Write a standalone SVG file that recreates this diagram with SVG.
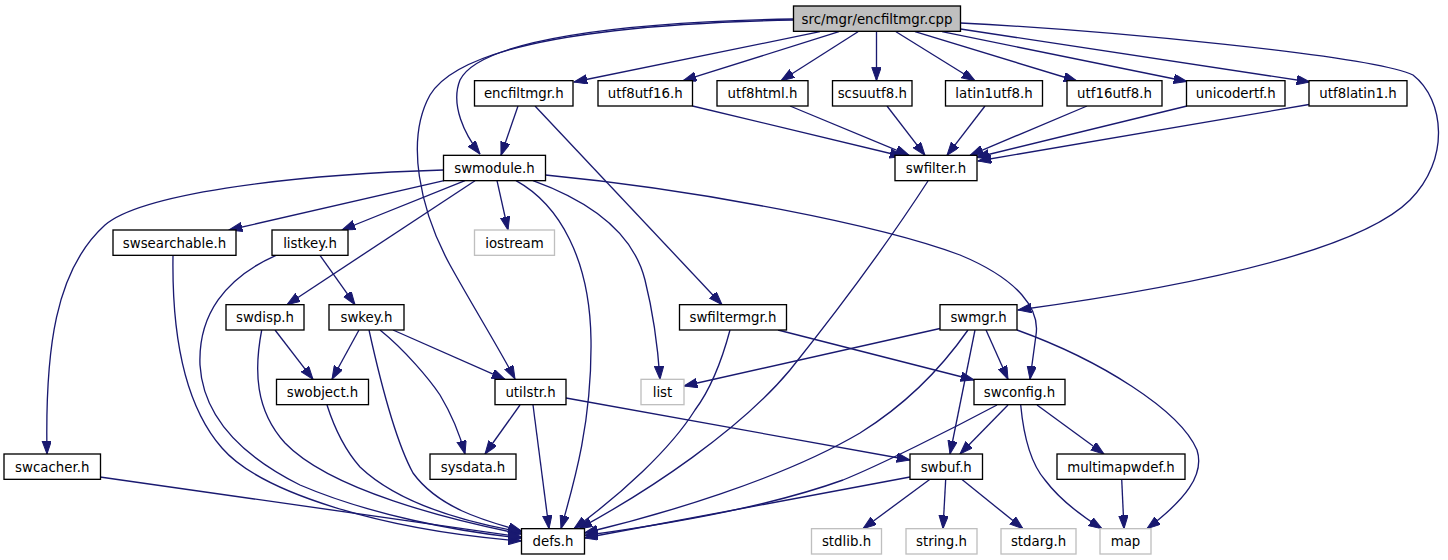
<svg xmlns="http://www.w3.org/2000/svg" width="1448" height="560" viewBox="0 0 1448 560">
<style>
.n rect{fill:#ffffff;stroke:#000000;stroke-width:1.33}
.g rect{fill:#ffffff;stroke:#bfbfbf;stroke-width:1.33}
.root rect{fill:#bfbfbf;stroke:#000000;stroke-width:1.33}
text{font-family:"DejaVu Sans","Liberation Sans",sans-serif;font-size:13.33px;text-anchor:middle;fill:#000000}
#edges path{fill:none;stroke:#191970;stroke-width:1.33;marker-end:url(#arr)}
</style>
<defs>
<marker id="arr" markerUnits="userSpaceOnUse" markerWidth="14" markerHeight="10" refX="13.3" refY="4.7" orient="auto">
<path d="M0,0 L13.3,4.7 L0,9.4 z" fill="#191970" stroke="#191970" stroke-width="1"/>
</marker>
</defs>
<rect x="0" y="0" width="1448" height="560" fill="#ffffff"/>
<g id="edges">
<path d="M820,31.7 L574,82"/>
<path d="M839,31.7 L683,80.7"/>
<path d="M858,31.7 L781,80.7"/>
<path d="M876.5,31.7 L876.5,80.7"/>
<path d="M896,31.7 L975,80.7"/>
<path d="M915,31.7 L1077,81"/>
<path d="M942,31.7 L1187,81.5"/>
<path d="M960.5,29 L1310,82"/>
<path d="M960.5,23 C1100,30 1370,55 1413,75 C1445,100 1450,160 1410,200 C1360,250 1200,285 1018,310"/>
<path d="M793.5,19 C620,22 480,40 460,80 C450,105 465,135 480,154"/>
<path d="M793.5,20 C600,24 460,45 430,95 C405,140 420,210 450,265 C475,310 500,350 515,379"/>
<path d="M518,106 L501,155.3"/>
<path d="M535,106 L722,304.7"/>
<path d="M692.5,106 L903,156.5"/>
<path d="M790,106 L909,155.3"/>
<path d="M887,106 L925,155.3"/>
<path d="M985,106 L947,155.3"/>
<path d="M1087,106 L970,155.3"/>
<path d="M1187,106 L976,157.5"/>
<path d="M1309,104.5 L978,161"/>
<path d="M928,181 C880,255 830,320 790,370 C740,430 650,490 579,528.7"/>
<path d="M443.5,170 C280,175 140,195 105,225 C55,270 45,350 47,454"/>
<path d="M444,180.7 L229,230"/>
<path d="M465,180.7 L342,230"/>
<path d="M475,180.7 L287,304.7"/>
<path d="M497,180.7 L508,230"/>
<path d="M516,180.7 C560,205 590,260 591,340 C592,420 575,480 561,528.7"/>
<path d="M533,180.7 C600,205 635,240 645,280 C655,320 658,350 660,379.3"/>
<path d="M545.5,175 C700,190 880,225 960,255 C1020,280 1040,310 1036,335 C1034,350 1032,365 1030,379.3"/>
<path d="M173,255.3 C172,320 180,400 222,448 C260,492 380,530 521.5,541"/>
<path d="M276,255.3 C225,278 198,315 200,365 C203,415 240,455 300,485 C370,515 460,532 521.5,538"/>
<path d="M320,255.3 L355,304.7"/>
<path d="M275,330 L313,379.3"/>
<path d="M261.7,330 C254,370 255,410 285,443 C330,490 450,520 521.5,534"/>
<path d="M359,330 L332,379.3"/>
<path d="M369,330 C380,380 395,440 413,473 C440,510 490,522 521.5,531"/>
<path d="M380,330 C405,350 430,380 440,395 C452,415 460,435 465,454"/>
<path d="M393,330 L505,379.3"/>
<path d="M730,330 C722,360 710,390 695,410 C670,450 620,495 574,528.7"/>
<path d="M778,330 L974,380"/>
<path d="M940,328.5 L684,386"/>
<path d="M968,330 C940,370 905,405 860,433 C780,480 660,515 584.5,533"/>
<path d="M975,330 L950,454"/>
<path d="M986,330 L1008,379.3"/>
<path d="M1017,330 C1100,360 1180,410 1197,450 C1205,475 1185,500 1147,528.7"/>
<path d="M997,405 C950,430 880,465 843,480 C760,510 640,528 584.5,535.5"/>
<path d="M1008,405 L960,454"/>
<path d="M1037,405 L1104,454"/>
<path d="M1020.7,405 C1024,440 1032,465 1045,480 C1060,500 1080,515 1102,528.7"/>
<path d="M566,398 L910,460"/>
<path d="M520,405 L485,454"/>
<path d="M533,405 L549,528.7"/>
<path d="M327,405 C335,430 345,450 360,467 C400,505 470,523 521.5,532"/>
<path d="M100,477 L521.5,537"/>
<path d="M910,477 L584.5,538"/>
<path d="M930,479.3 L863,528.7"/>
<path d="M945.7,479.3 L943,528.7"/>
<path d="M961.7,479.3 L1023,528.7"/>
<path d="M1121.7,479.3 L1124,528.7"/>
</g>
<g id="node_cpp" class="root"><rect x="793.5" y="6" width="167" height="25.33"/><text x="877" y="23.5">src/mgr/encfiltmgr.cpp</text></g>
<g id="node_encfiltmgr_h" class="n"><rect x="474.5" y="80.67" width="98.5" height="25.33"/><text x="523.75" y="98.2">encfiltmgr.h</text></g>
<g id="node_utf8utf16_h" class="n"><rect x="598" y="80.67" width="94.5" height="25.33"/><text x="645.25" y="98.2">utf8utf16.h</text></g>
<g id="node_utf8html_h" class="n"><rect x="717" y="80.67" width="91" height="25.33"/><text x="762.5" y="98.2">utf8html.h</text></g>
<g id="node_scsuutf8_h" class="n"><rect x="832.5" y="80.67" width="79.5" height="25.33"/><text x="872.25" y="98.2">scsuutf8.h</text></g>
<g id="node_latin1utf8_h" class="n"><rect x="945.5" y="80.67" width="97" height="25.33"/><text x="994" y="98.2">latin1utf8.h</text></g>
<g id="node_utf16utf8_h" class="n"><rect x="1067" y="80.67" width="95" height="25.33"/><text x="1114.5" y="98.2">utf16utf8.h</text></g>
<g id="node_unicodertf_h" class="n"><rect x="1186.5" y="80.67" width="98.5" height="25.33"/><text x="1235.75" y="98.2">unicodertf.h</text></g>
<g id="node_utf8latin1_h" class="n"><rect x="1309" y="80.67" width="98" height="25.33"/><text x="1358" y="98.2">utf8latin1.h</text></g>
<g id="node_swmodule_h" class="n"><rect x="443.5" y="155.33" width="102" height="25.33"/><text x="494.5" y="172.8">swmodule.h</text></g>
<g id="node_swfilter_h" class="n"><rect x="895" y="155.33" width="82" height="25.33"/><text x="936" y="172.8">swfilter.h</text></g>
<g id="node_swsearchable_h" class="n"><rect x="113" y="230" width="123" height="25.33"/><text x="174.5" y="247.5">swsearchable.h</text></g>
<g id="node_listkey_h" class="n"><rect x="272" y="230" width="76" height="25.33"/><text x="310" y="247.5">listkey.h</text></g>
<g id="node_iostream" class="g"><rect x="474.5" y="230" width="80" height="25.33"/><text x="514.5" y="247.5">iostream</text></g>
<g id="node_swdisp_h" class="n"><rect x="226" y="304.67" width="78" height="25.33"/><text x="265" y="322.2">swdisp.h</text></g>
<g id="node_swkey_h" class="n"><rect x="329" y="304.67" width="75" height="25.33"/><text x="366.5" y="322.2">swkey.h</text></g>
<g id="node_swfiltermgr_h" class="n"><rect x="679.5" y="304.67" width="107" height="25.33"/><text x="733" y="322.2">swfiltermgr.h</text></g>
<g id="node_swmgr_h" class="n"><rect x="940" y="304.67" width="77" height="25.33"/><text x="978.5" y="322.2">swmgr.h</text></g>
<g id="node_swobject_h" class="n"><rect x="276.5" y="379.33" width="92" height="25.33"/><text x="322.5" y="396.8">swobject.h</text></g>
<g id="node_utilstr_h" class="n"><rect x="495" y="379.33" width="71" height="25.33"/><text x="530.5" y="396.8">utilstr.h</text></g>
<g id="node_list" class="g"><rect x="641" y="379.33" width="43" height="25.33"/><text x="662.5" y="396.8">list</text></g>
<g id="node_swconfig_h" class="n"><rect x="974" y="379.33" width="91" height="25.33"/><text x="1019.5" y="396.8">swconfig.h</text></g>
<g id="node_swcacher_h" class="n"><rect x="4" y="454" width="96.5" height="25.33"/><text x="52.25" y="471.5">swcacher.h</text></g>
<g id="node_sysdata_h" class="n"><rect x="430" y="454" width="86" height="25.33"/><text x="473" y="471.5">sysdata.h</text></g>
<g id="node_swbuf_h" class="n"><rect x="910" y="454" width="72.5" height="25.33"/><text x="946.25" y="471.5">swbuf.h</text></g>
<g id="node_multimapwdef_h" class="n"><rect x="1057" y="454" width="128" height="25.33"/><text x="1121" y="471.5">multimapwdef.h</text></g>
<g id="node_defs_h" class="n"><rect x="521.5" y="528.67" width="63" height="25.33"/><text x="553" y="546.2">defs.h</text></g>
<g id="node_stdlib_h" class="g"><rect x="811.5" y="528.67" width="70" height="25.33"/><text x="846.5" y="546.2">stdlib.h</text></g>
<g id="node_string_h" class="g"><rect x="906" y="528.67" width="71" height="25.33"/><text x="941.5" y="546.2">string.h</text></g>
<g id="node_stdarg_h" class="g"><rect x="1001" y="528.67" width="75" height="25.33"/><text x="1038.5" y="546.2">stdarg.h</text></g>
<g id="node_map" class="g"><rect x="1100" y="528.67" width="51" height="25.33"/><text x="1125.5" y="546.2">map</text></g>
</svg>
